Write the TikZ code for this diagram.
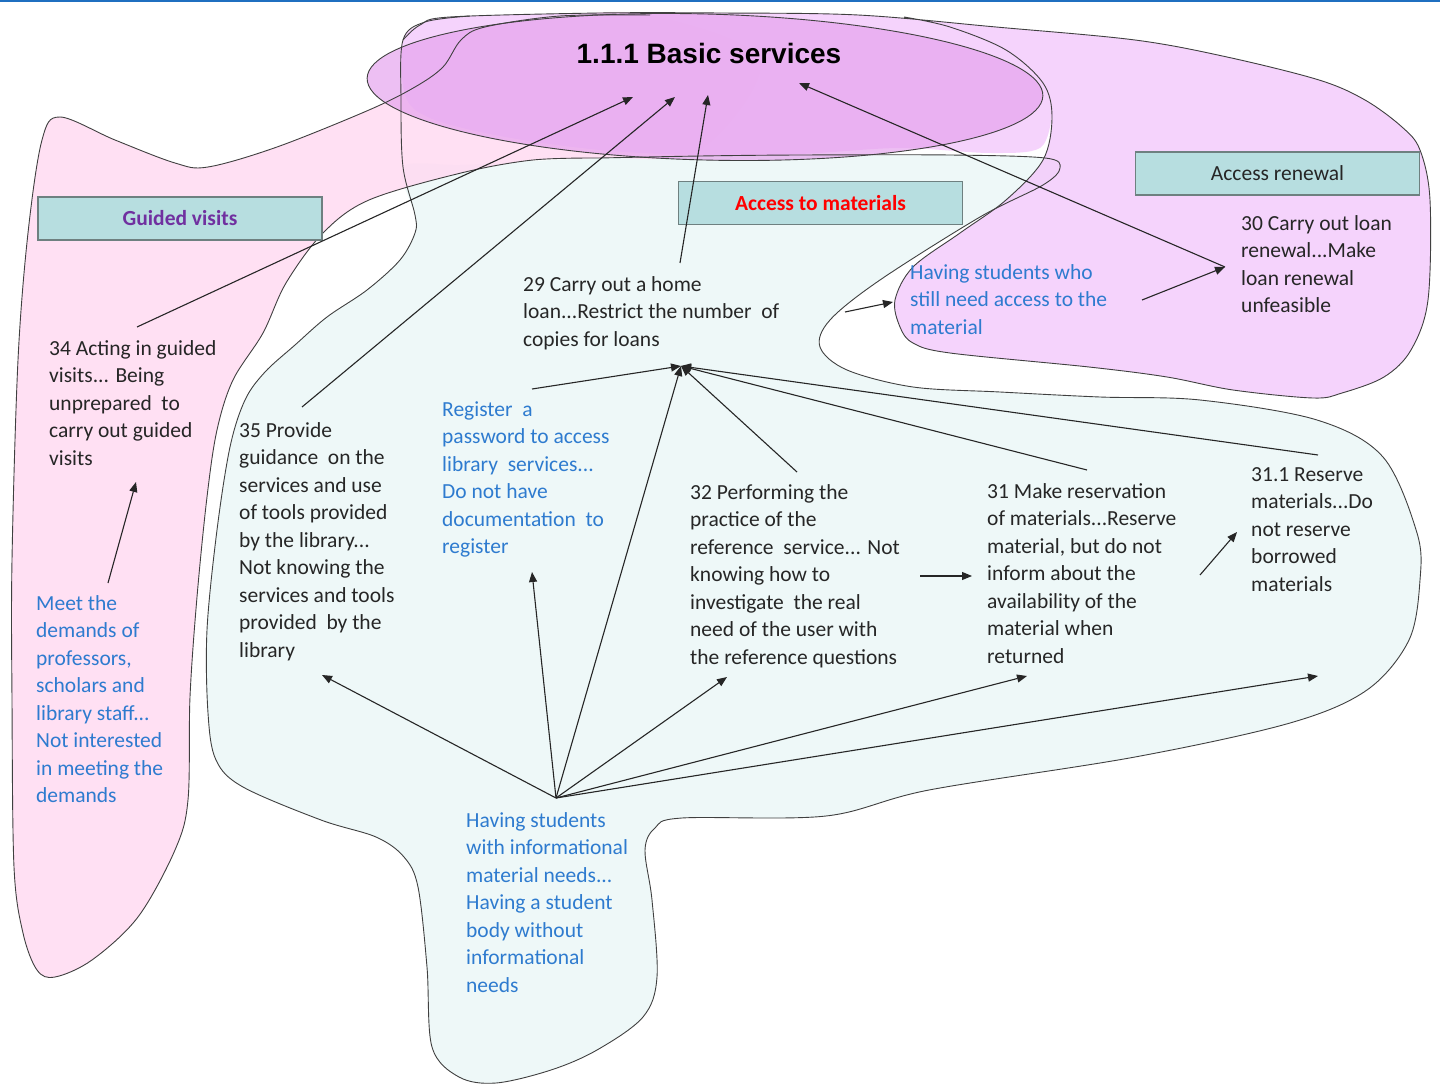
\documentclass[tikz,border=0pt]{standalone}
\usepackage{fontspec}
\setmainfont{Carlito}
\newfontfamily\headfont{Liberation Sans}
\usetikzlibrary{arrows.meta}

\definecolor{topblue}{HTML}{1F6FC0}
\definecolor{pinkfill}{HTML}{FFDAF1}
\definecolor{aquafill}{HTML}{EEF8F8}
\definecolor{lavfill}{HTML}{F3CBFB}
\definecolor{magfill}{HTML}{E6A4EE}
\definecolor{boxfill}{HTML}{B7DEE0}
\definecolor{boxline}{HTML}{6E8080}
\definecolor{ink}{HTML}{262626}
\definecolor{bluetxt}{HTML}{2E7BCF}
\definecolor{purptxt}{HTML}{7030A0}
\definecolor{blobline}{HTML}{404040}

\tikzset{
  blob/.style={draw=blobline, line width=0.9pt},
  txt/.style={anchor=north west, inner sep=0pt, align=left,
    font=\fontsize{21.5}{27.5}\selectfont, text=ink},
  bluenote/.style={txt, text=bluetxt},
  label box/.style={draw=boxline, line width=1.5pt, fill=boxfill,
    minimum width=284pt, minimum height=43pt, inner sep=0pt,
    font=\fontsize{21.5}{26}\selectfont},
  link/.style={draw=black!85, line width=1.1pt,
    -{Triangle[length=10pt,width=8pt]}},
}

\begin{document}
\begin{tikzpicture}[x=1pt, y=-1pt]
  \useasboundingbox (0,0) rectangle (1440,1086);
  \fill[topblue] (0,0) rectangle (1440,2.5);

  % group fills
  \fill[aquafill] plot[smooth cycle, tension=0.55] coordinates {(403,167) (415,215) (415,233) (400,260) (367,290) (327,317) (295,345) (265,372) (245,400) (230,447) (217,530) (207,630) (208,713) (216,760) (243,787) (321,820) (376,837) (404,857) (418,887) (427,967) (432,1047) (459,1077) (496,1083) (551,1070) (597,1050) (643,1017) (657,977) (652,900) (645,850) (655,828) (682,818) (826,816) (929,790) (1135,757) (1290,723) (1367,690) (1409,640) (1420,580) (1417,533) (1383,457) (1317,420) (1200,400) (1100,397) (1000,392) (913,387) (847,370) (820,347) (830,320) (880,280) (980,217) (1043,185) (1060,168) (1045,158) (950,155) (800,155) (700,156) (600,158) (533,161) (461,165)};
  \fill[pinkfill, opacity=0.85] plot[smooth cycle, tension=0.55] coordinates {(60,117) (115,140) (175,163) (208,167) (277,147) (369,110) (415,87) (443,67) (461,40) (485,27) (560,16) (650,15) (760,60) (700,150) (600,158) (533,160) (461,173) (369,200) (323,233) (286,283) (263,333) (233,380) (217,430) (207,497) (197,597) (190,697) (188,800) (175,850) (138,917) (92,960) (55,977) (37,970) (23,933) (14,867) (12,700) (12,560) (18,360) (28,233) (42,140)};
  \fill[lavfill, opacity=0.85] plot[smooth cycle, tension=0.55] coordinates {(405,95) (403,40) (420,25) (450,17) (600,13) (720,13) (858,15) (996,27) (1135,40) (1227,57) (1319,80) (1365,100) (1402,127) (1420,150) (1430,200) (1428,300) (1411,350) (1384,377) (1342,393) (1313,398) (1233,390) (1167,377) (1089,367) (950,353) (913,343) (900,327) (895,300) (913,267) (960,233) (1006,200) (1043,160) (1052,117) (1040,148) (990,153) (900,148) (800,154) (700,155) (600,150) (500,136) (430,118)};
  \fill[magfill, opacity=0.7, rotate around={-1.5:(705,87)}] (705,87) ellipse [x radius=338pt, y radius=73pt];

  % group outlines
  \draw[blob] plot[smooth, tension=0.55] coordinates {(470,16) (425,22) (403,40) (401,100) (403,167) (415,215) (415,233) (400,260) (367,290) (327,317) (295,345) (265,372) (245,400) (230,447) (217,530) (207,630) (208,713) (216,760) (243,787) (321,820) (376,837) (404,857) (418,887) (427,967) (432,1047) (459,1077) (496,1083) (551,1070) (597,1050) (643,1017) (657,977) (652,900) (645,850) (655,828) (682,818) (826,816) (929,790) (1135,757) (1290,723) (1367,690) (1409,640) (1420,580) (1417,533) (1383,457) (1317,420) (1200,400) (1100,397) (1000,392) (913,387) (847,370) (820,347) (830,320) (880,280) (980,217) (1043,185) (1060,168) (1045,158) (950,155) (800,155) (700,156) (600,158)};
  \draw[blob] plot[smooth, tension=0.55] coordinates {(650,15) (560,16) (485,27) (461,40) (443,67) (415,87) (369,110) (277,147) (208,167) (175,163) (115,140) (60,117) (42,140) (28,233) (18,360) (12,560) (12,700) (14,867) (23,933) (37,970) (55,977) (92,960) (138,917) (175,850) (188,800) (190,697) (197,597) (207,497) (217,430) (233,380) (263,333) (286,283) (323,233) (369,200) (461,173) (533,160) (600,158)};
  \draw[blob] plot[smooth, tension=0.55] coordinates {(403,40) (420,25) (450,17) (600,13) (720,13) (858,15) (996,27) (1135,40) (1227,57) (1319,80) (1365,100) (1402,127) (1420,150) (1430,200) (1428,300) (1411,350) (1384,377) (1342,393) (1313,398) (1233,390) (1167,377) (1089,367) (950,353) (913,343) (900,327) (895,300) (913,267) (960,233) (1006,200) (1043,160) (1052,117) (1043,83) (1006,50) (950,27) (904,17)};
  \draw[blob, rotate around={-1.5:(705,87)}] (705,87) ellipse [x radius=338pt, y radius=73pt];

  % headings
  \node[font=\headfont\bfseries\fontsize{28}{32}\selectfont, text=black] (title) at (709,53) {1.1.1 Basic services};
  \node[label box, text=purptxt, font=\bfseries\fontsize{21.5}{26}\selectfont] (guided) at (180,218.5) {Guided visits};
  \node[label box, text=red, font=\bfseries\fontsize{21.5}{26}\selectfont] (access) at (820.5,203) {Access to materials};
  \node[label box, text=ink] (renewal) at (1277.5,173.5) {Access renewal};

  % items
  \node[txt] (n29) at (523,272) {\strut 29 Carry out a home\\loan...Restrict the number\ \ of\\copies for loans};
  \node[txt] (n30) at (1241,211) {\strut 30 Carry out loan\\renewal...Make\\loan renewal\\unfeasible};
  \node[bluenote] (still) at (910,260) {\strut Having students who\\still need access to the\\material};
  \node[txt] (n34) at (49,336) {\strut 34 Acting in guided\\visits... Being\\unprepared\ \ to\\carry out guided\\visits};
  \node[txt] (n35) at (239,418) {\strut 35 Provide\\guidance\ \ on the\\services and use\\of tools provided\\by the library...\\Not knowing the\\services and tools\\provided\ \ by the\\library};
  \node[bluenote] (reg) at (442,397) {\strut Register\ \ a\\password to access\\library\ \ services...\\Do not have\\documentation\ \ to\\register};
  \node[txt] (n32) at (690,480) {\strut 32 Performing the\\practice of the\\reference\ \ service... Not\\knowing how to\\investigate\ \ the real\\need of the user with\\the reference questions};
  \node[txt] (n31) at (987,479) {\strut 31 Make reservation\\of materials...Reserve\\material, but do not\\inform about the\\availability of the\\material when\\returned};
  \node[txt] (n311) at (1251,462) {\strut 31.1 Reserve\\materials...Do\\not reserve\\borrowed\\materials};
  \node[bluenote] (meet) at (36,591) {\strut Meet the\\demands of\\professors,\\scholars and\\library staff...\\Not interested\\in meeting the\\demands};
  \node[bluenote] (needs) at (466,808) {\strut Having students\\with informational\\material needs...\\Having a student\\body without\\informational\\needs};

  % ports
  \coordinate (bs1) at (633,97);
  \coordinate (bs2) at (675,97);
  \coordinate (bs3) at (708,95);
  \coordinate (bs4) at (799,83);
  \coordinate (out34) at (137,327);
  \coordinate (out35) at (302,407);
  \coordinate (out29) at (680,263);
  \coordinate (out30) at (1225,267);
  \coordinate (out29r) at (845,312);
  \coordinate (in29) at (681,366);
  \coordinate (outreg) at (532,389);
  \coordinate (out32) at (797,472);
  \coordinate (out31) at (1087,470);
  \coordinate (out311) at (1318,455);
  \coordinate (outstill) at (1142,300);
  \coordinate (instill) at (893,302);
  \coordinate (in34) at (136,482);
  \coordinate (outmeet) at (108,583);
  \coordinate (hub) at (556,798);
  \coordinate (in35) at (322,675);
  \coordinate (inreg) at (532,572);
  \coordinate (in32) at (727,677);
  \coordinate (in31) at (1027,676);
  \coordinate (in311) at (1318,676);
  \coordinate (out32r) at (920,576);
  \coordinate (in31l) at (972,576);
  \coordinate (out31r) at (1200,575);
  \coordinate (in311l) at (1237,532);

  % links
  \draw[link] (out34) -- (bs1);
  \draw[link] (out35) -- (bs2);
  \draw[link] (out29) -- (bs3);
  \draw[link] (out30) -- (bs4);
  \draw[link] (outstill) -- (out30);
  \draw[link] (out29r) -- (instill);
  \draw[link] (outmeet) -- (in34);
  \draw[link] (outreg) -- (in29);
  \draw[link] (out32) -- (in29);
  \draw[link] (out31) -- (in29);
  \draw[link] (out311) -- (in29);
  \draw[link] (hub) -- (in29);
  \draw[link] (hub) -- (in35);
  \draw[link] (hub) -- (inreg);
  \draw[link] (hub) -- (in32);
  \draw[link] (hub) -- (in31);
  \draw[link] (hub) -- (in311);
  \draw[link] (out32r) -- (in31l);
  \draw[link] (out31r) -- (in311l);
\end{tikzpicture}
\end{document}
